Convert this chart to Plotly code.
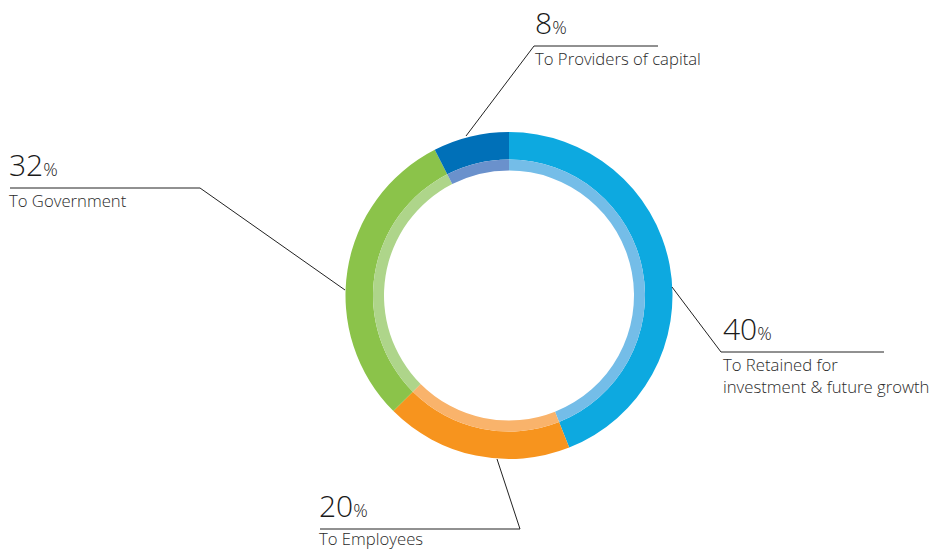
import plotly.graph_objects as go

# ---- data ----
categories = ["To Retained for<br>investment & future growth", "To Employees", "To Government", "To Providers of capital"]
pct_labels = ["40", "20", "32", "8"]
arc_values = [44, 18.5, 30, 7.5]  # shares as drawn in the ring
outer_colors = ["#0DA9E0", "#F7941E", "#8BC34A", "#0070B8"]
inner_colors = ["#74BDE8", "#F9B36B", "#AED58A", "#6A91CC"]

W, H = 936, 551
CX, CY = 509, 295.5
R_OUT, R_MID, R_IN = 163.5, 136, 125


def px(x):
    return x / W


def py(y):
    return 1 - y / H


def dom(r):
    return dict(x=[px(CX - r), px(CX + r)], y=[py(CY + r), py(CY - r)])


fig = go.Figure()
fig.add_trace(go.Pie(values=arc_values, labels=categories, marker=dict(colors=outer_colors, line=dict(width=0)),
                     hole=R_MID / R_OUT, domain=dom(R_OUT), sort=False, direction="clockwise", rotation=0,
                     textinfo="none", hoverinfo="skip", showlegend=False))
fig.add_trace(go.Pie(values=arc_values, labels=categories, marker=dict(colors=inner_colors, line=dict(width=0)),
                     hole=R_IN / R_MID, domain=dom(R_MID), sort=False, direction="clockwise", rotation=0,
                     textinfo="none", hoverinfo="skip", showlegend=False))

# leader lines (pixel paths)
leaders = [
    [(672, 287), (721, 352), (884, 352)],
    [(497, 459), (520, 529), (320, 529)],
    [(345, 290), (200, 188), (10, 188)],
    [(466, 136), (534, 46), (658, 46)],
]
label_pos = [(724, 352), (320, 529), (10, 188), (536, 46)]
desc_nudge = [0, -3, 0, 0]

for pts in leaders:
    path = "M " + " L ".join(f"{px(x)},{py(y)}" for x, y in pts)
    fig.add_shape(type="path", path=path, xref="paper", yref="paper",
                  line=dict(color="#222222", width=1))

for cat, pct, (x, y), dn in zip(categories, pct_labels, label_pos, desc_nudge):
    fig.add_annotation(x=px(x - 3), y=py(y - 1), xref="paper", yref="paper", xanchor="left", yanchor="bottom",
                       text=f"{pct}<span style='font-size:18px'>%</span>", showarrow=False,
                       font=dict(family="Open Sans", size=30, color="#1a1a1a", weight=300))
    fig.add_annotation(x=px(x - 3), y=py(y - 1 + dn), xref="paper", yref="paper", xanchor="left", yanchor="top",
                       text=cat, showarrow=False, align="left",
                       font=dict(family="Open Sans", size=16.7, color="#2a2a2a", weight=300))

fig.update_layout(width=W, height=H, margin=dict(l=0, r=0, t=0, b=0),
                  paper_bgcolor="white", plot_bgcolor="white")
fig.write_html("out.html", config={"displayModeBar": False},
               post_script="document.body.style.margin='0';document.body.style.overflow='hidden';")
